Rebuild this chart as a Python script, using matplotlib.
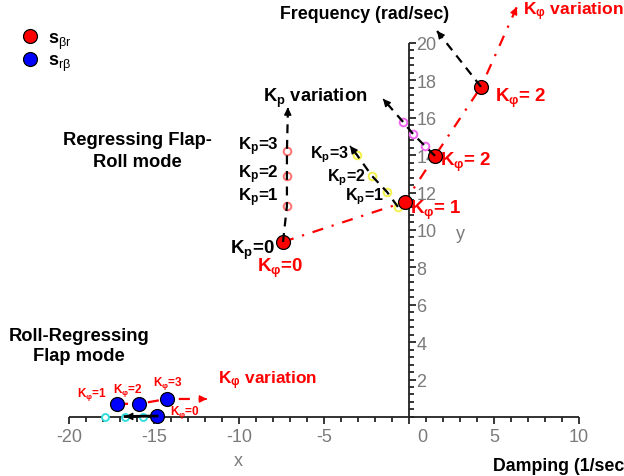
import numpy as np
import matplotlib
matplotlib.use("Agg")
import matplotlib.pyplot as plt
from matplotlib.lines import Line2D
from matplotlib.ticker import FixedLocator, FuncFormatter

plt.rcParams['font.family'] = ['Liberation Sans', 'DejaVu Sans']
plt.rcParams['mathtext.fontset'] = 'custom'
plt.rcParams['mathtext.rm'] = 'Liberation Sans'
plt.rcParams['mathtext.it'] = 'Liberation Sans'
plt.rcParams['mathtext.bf'] = 'Liberation Sans:bold'
plt.rcParams['axes.unicode_minus'] = False

# s_br roots for K_phi = 0, 1, 2, 2 (damping, frequency)
br_damp = [-7.41, -0.24, 1.53, 4.24]
br_freq = [9.36, 11.50, 13.96, 17.65]
br_tip = (6.35, 21.93)

# K_p variation branches leaving the s_br roots
kpa_damp = [-7.41, -7.18, -7.18, -7.18]
kpa_freq = [9.36, 11.28, 12.89, 14.22]
kpa_tip = (-7.12, 16.55)
kpb_damp = [-0.65, -1.29, -2.18, -3.06]
kpb_freq = [11.23, 12.03, 12.89, 14.01]
kpb_tip = (-3.47, 14.49)
kpc_damp = [1.53, 0.94, 0.24, -0.35]
kpc_freq = [13.96, 14.49, 15.13, 15.78]
kpc_tip = (-1.53, 17.01)
kpd_damp = [4.24]
kpd_freq = [17.65]
kpd_tip = (1.65, 20.64)

# s_rb roots for K_phi = 0, 1, 2, 3
rb_damp = [-14.82, -17.18, -15.88, -14.24]
rb_freq = [0.05, 0.70, 0.70, 0.96]
rb_tip = (-11.88, 0.96)
# K_p variation on the s_rb root (K_phi = 0)
rbkp_damp = [-15.65, -16.71, -17.88]
rbkp_freq = [0.0, 0.0, 0.0]
rbkp_tip = (-16.7, 0.02)

xticks = [-20, -15, -10, -5, 0, 5, 10]
yticks = [2, 4, 6, 8, 10, 12, 14, 16, 18, 20]
x_range = (-20, 10)
y_range = (0, 20)

RED = '#ff0000'
GRAY = '#7a7a7a'


def head(ax, x0, y0, tip, color):
    # tiny arrow head at the end of a branch
    dx, dy = tip[0] - x0, tip[1] - y0
    ax.annotate('', xy=tip, xytext=(tip[0] - 0.03 * dx, tip[1] - 0.03 * dy),
                arrowprops=dict(arrowstyle='-|>', color=color, lw=1,
                                mutation_scale=11, shrinkA=0, shrinkB=0),
                zorder=8)


fig = plt.figure(figsize=(6.24, 4.77), dpi=100)
ax = fig.add_axes([0, 0, 1, 1])
ax.set_xlim(-24.06, 12.65)
ax.set_ylim(-3.16, 22.35)

# axes through the origin, Maple style
for s in ['left', 'top', 'bottom', 'right']:
    ax.spines[s].set_visible(False)
ax.spines['bottom'].set_position(('data', 0))
ax.spines['right'].set_position(('data', 0))
ax.plot(x_range, [0, 0], color='#222222', lw=1.3, solid_capstyle='butt', zorder=2)
ax.plot([0, 0], y_range, color='#222222', lw=1.3, solid_capstyle='butt', zorder=2)

ax.xaxis.set_ticks_position('bottom')
ax.yaxis.set_ticks_position('right')
ax.xaxis.set_major_locator(FixedLocator(xticks))
ax.xaxis.set_minor_locator(FixedLocator(np.arange(x_range[0], x_range[1] + 0.1, 1)))
ax.yaxis.set_major_locator(FixedLocator(yticks))
ax.yaxis.set_minor_locator(FixedLocator(np.arange(y_range[0], y_range[1] + 0.1, 0.4)))
ax.xaxis.set_major_formatter(FuncFormatter(lambda v, p: '' if v == 0 else '%d' % v))
ax.tick_params(axis='x', which='major', direction='out', length=5, width=1.1,
               labelsize=13, labelcolor=GRAY, pad=3)
ax.tick_params(axis='x', which='minor', direction='out', length=3.5, width=1.1)
ax.tick_params(axis='y', which='major', direction='out', length=5, width=1.1,
               labelsize=13, labelcolor=GRAY, pad=0.5)
ax.tick_params(axis='y', which='minor', direction='out', length=3.5, width=1.1)
# Maple puts the origin label just right of the vertical axis
ax.annotate('0', xy=(0, 0), xytext=(6, -8), textcoords='offset points',
            ha='left', va='top', fontsize=13, color=GRAY)

# K_phi variation (red dash-dot)
dashdot = (0, (5, 4, 1, 4))
ax.plot(br_damp + [br_tip[0]], br_freq + [br_tip[1]], color=RED, lw=1.6,
        ls=dashdot, zorder=3)
head(ax, br_damp[-1], br_freq[-1], br_tip, RED)
ax.plot(rb_damp[1:] + [rb_tip[0]], rb_freq[1:] + [rb_tip[1]], color=RED, lw=1.6,
        ls=dashdot, zorder=3)
head(ax, rb_damp[-1], rb_freq[-1], rb_tip, RED)

# K_p variation (black dashed) with open circles
branches = [(kpa_damp, kpa_freq, kpa_tip, '#ff7070', 1),
            (kpb_damp, kpb_freq, kpb_tip, '#f2f24a', 0),
            (kpc_damp, kpc_freq, kpc_tip, '#ee66ee', 1),
            (kpd_damp, kpd_freq, kpd_tip, None, 1)]
for xs, ys, tip, col, skip in branches:
    if col is not None:
        ax.plot(xs[skip:], ys[skip:], 'o', ms=5.5, mfc='white', mec=col, mew=1.4,
                zorder=4)
    ax.plot(xs + [tip[0]], ys + [tip[1]], color='black', lw=1.6,
            ls=(0, (4, 3)), zorder=6)
    head(ax, xs[-1], ys[-1], tip, 'black')

ax.plot(rbkp_damp, rbkp_freq, 'o', ms=5, mfc='white', mec='#33dddd', mew=1.4, zorder=4)
ax.plot([rb_damp[0], rbkp_tip[0]], [rb_freq[0], rbkp_tip[1]], color='black', lw=2,
        zorder=6)
head(ax, rb_damp[0], rb_freq[0], rbkp_tip, 'black')

# roots
ax.plot(br_damp, br_freq, 'o', ms=10, mfc=RED, mec='black', mew=0.9, zorder=5)
ax.plot(rb_damp, rb_freq, 'o', ms=10, mfc='#0000ff', mec='black', mew=0.9, zorder=5)

# annotations
bold = dict(fontweight='bold')
ax.text(-7.59, 21.55, 'Frequency (rad/sec)', fontsize=12.8, va='center', **bold)
ax.text(4.94, -2.62, 'Damping (1/sec)', fontsize=12.8, va='center', **bold)
ax.text(-10.06, -2.35, 'x', fontsize=13, color=GRAY, ha='center', va='center')
ax.text(3.0, 9.79, 'y', fontsize=13, color=GRAY, ha='center', va='center')
ax.text(-16.0, 14.25, 'Regressing Flap-\nRoll mode', fontsize=13.2, ha='center',
        va='center', linespacing=1.4, **bold)
ax.text(-19.41, 3.83, 'Roll-Regressing\nFlap mode', fontsize=13.2, ha='center',
        va='center', linespacing=1.25, **bold)

ax.text(-8.59, 17.11, r'K$_\mathbf{p}$ variation', fontsize=13.2, va='center', **bold)
for lbl, yv in [('3', 14.49), ('2', 12.99), ('1', 11.76)]:
    ax.text(-7.65, yv, r'K$_\mathbf{p}$=' + lbl, fontsize=12.2, ha='right',
            va='center', **bold)
for lbl, xv, yv in [('3', -5.82, 14.06), ('2', -4.82, 12.83), ('1', -3.76, 11.82)]:
    ax.text(xv, yv, r'K$_\mathbf{p}$=' + lbl, fontsize=11.5, va='center', **bold)
ax.text(-10.53, 8.98, r'K$_\mathbf{p}$=0', fontsize=13.5, va='center', **bold)

ax.text(-8.94, 8.02, r'K$_\mathbf{\varphi}$=0', fontsize=13.5, va='center', color=RED, **bold)
ax.text(0.06, 11.12, r'K$_\mathbf{\varphi}$= 1', fontsize=13.5, va='center', color=RED, **bold)
ax.text(1.82, 13.69, r'K$_\mathbf{\varphi}$= 2', fontsize=13.5, va='center', color=RED, **bold)
ax.text(5.06, 17.11, r'K$_\mathbf{\varphi}$= 2', fontsize=13.5, va='center', color=RED, **bold)
ax.text(6.71, 21.71, r'K$_\mathbf{\varphi}$ variation', fontsize=12.6, va='center',
        color=RED, **bold)
ax.text(-11.24, 1.98, r'K$_\mathbf{\varphi}$ variation', fontsize=12.4, va='center',
        color=RED, **bold)
for lbl, xv, yv in [('1', -19.53, 1.23), ('2', -17.41, 1.44), ('3', -15.06, 1.82),
                    ('0', -14.06, 0.27)]:
    ax.text(xv, yv, r'K$_\mathbf{\varphi}$=' + lbl, fontsize=8.5, va='center',
            color=RED, **bold)

handles = [Line2D([0], [0], ls='', marker='o', ms=10, mfc=RED, mec='black', mew=0.9),
           Line2D([0], [0], ls='', marker='o', ms=10, mfc='#0000ff', mec='black', mew=0.9)]
ax.legend(handles, [r'$\mathbf{s}_{\beta r}$', r'$\mathbf{s}_{r\beta}$'],
          loc='upper left', bbox_to_anchor=(0.022, 0.951), frameon=False,
          fontsize=13, handlelength=1.0, handletextpad=0.5, labelspacing=0.1,
          borderaxespad=0)

fig.savefig('out.png', dpi=100)
